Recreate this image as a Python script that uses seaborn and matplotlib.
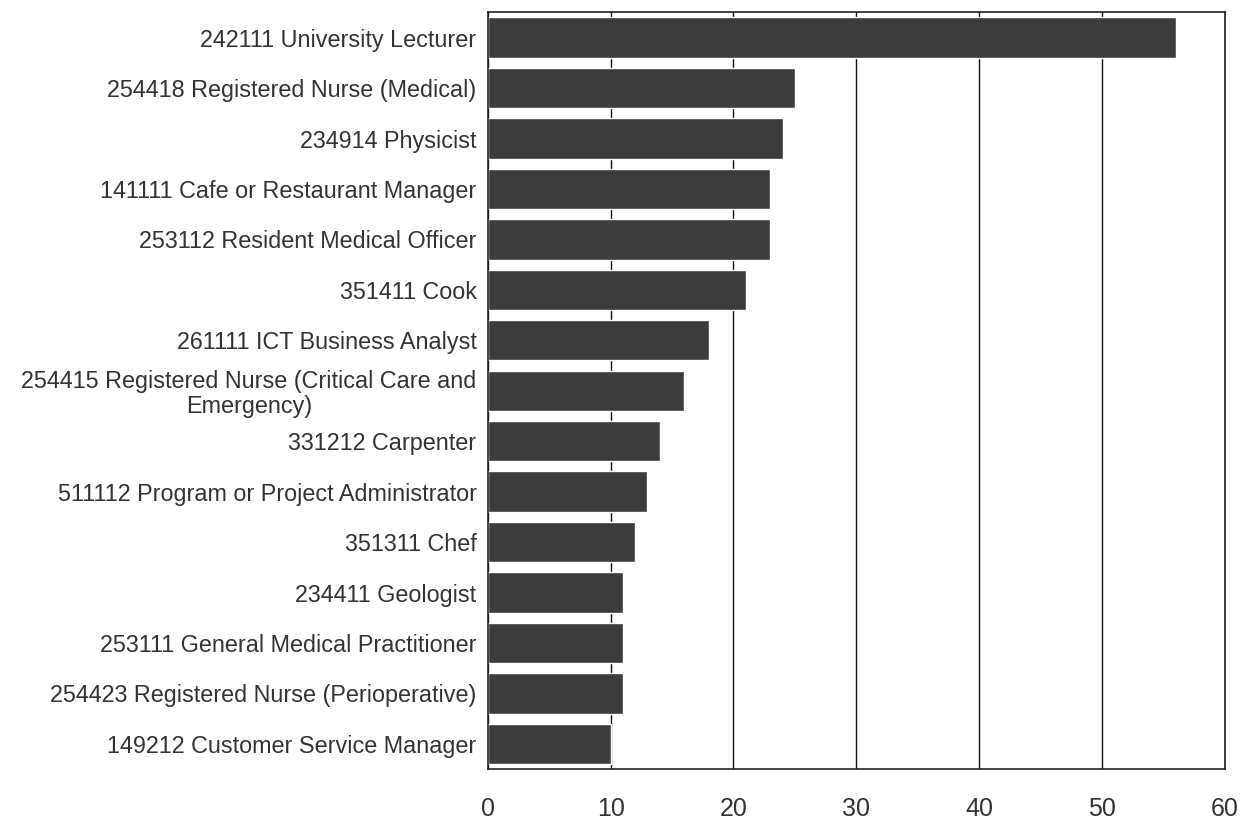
import matplotlib
matplotlib.use("Agg")
import matplotlib.pyplot as plt
import seaborn as sns
import pandas as pd

occupations = [
    "242111 University Lecturer",
    "254418 Registered Nurse (Medical)",
    "234914 Physicist",
    "141111 Cafe or Restaurant Manager",
    "253112 Resident Medical Officer",
    "351411 Cook",
    "261111 ICT Business Analyst",
    "254415 Registered Nurse (Critical Care and\nEmergency)",
    "331212 Carpenter",
    "511112 Program or Project Administrator",
    "351311 Chef",
    "234411 Geologist",
    "253111 General Medical Practitioner",
    "254423 Registered Nurse (Perioperative)",
    "149212 Customer Service Manager",
]
counts = [56, 25, 24, 23, 23, 21, 18, 16, 14, 13, 12, 11, 11, 11, 10]
x_ticks = [0, 10, 20, 30, 40, 50, 60]

data = pd.DataFrame({"occupation": occupations, "count": counts})

sns.set_theme(style="white")
plt.rcParams["font.family"] = ["Liberation Sans", "DejaVu Sans"]

fig, ax = plt.subplots(figsize=(12.41, 8.27), dpi=100)
fig.subplots_adjust(left=0.393, right=0.987, top=0.985, bottom=0.07)

sns.barplot(data=data, x="count", y="occupation", color="#3c3c3c",
            saturation=1, width=0.8, ax=ax, zorder=2)

ax.set_xlim(0, 60)
ax.set_xticks(x_ticks)
ax.xaxis.grid(True, color="#111111", linewidth=1.0, zorder=1)
ax.set_axisbelow(True)
for s in ax.spines.values():
    s.set_visible(True)
    s.set_color("#222222")
    s.set_linewidth(1.2)
ax.set_xlabel("")
ax.set_ylabel("")
ax.tick_params(axis="x", labelsize=18, colors="#333333", length=0, pad=20)
ax.tick_params(axis="y", labelsize=16.8, colors="#333333", length=0, pad=8)
for lab in ax.get_yticklabels():
    lab.set_multialignment("center")
    lab.set_linespacing(1.1)

fig.savefig("out.png", dpi=100)
